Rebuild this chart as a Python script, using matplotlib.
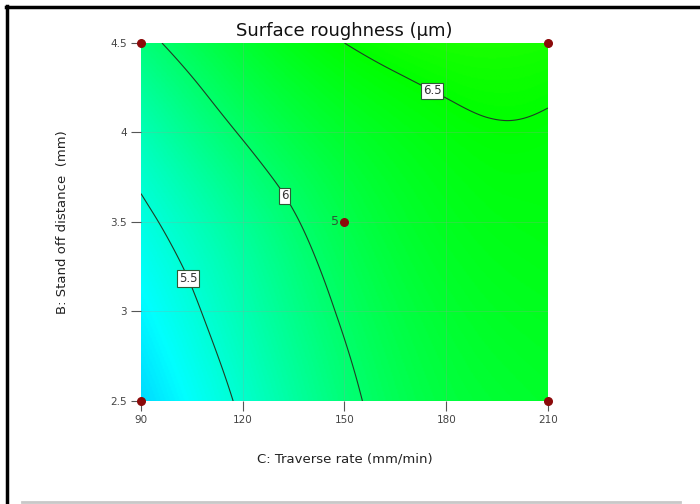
import numpy as np
import matplotlib
matplotlib.use("Agg")
import matplotlib.pyplot as plt
import matplotlib.tri as mtri
from matplotlib.colors import LinearSegmentedColormap
from matplotlib.lines import Line2D

# ---- data ----
traverse_rate = [90, 120, 150, 180, 195, 210]     # C (mm/min)
standoff = [2.5, 3.0, 3.5, 4.0, 4.5]              # B (mm)
# roughness estimates, rows = standoff, cols = traverse rate
ra_b25 = [5.13, 5.54, 5.94, 6.20, 6.26, 6.30]
ra_b30 = [5.27, 5.66, 6.03, 6.27, 6.33, 6.36]
ra_b35 = [5.44, 5.80, 6.14, 6.35, 6.40, 6.42]
ra_b40 = [5.65, 6.02, 6.29, 6.445, 6.484, 6.472]
ra_b45 = [5.93, 6.26, 6.50, 6.61, 6.62, 6.60]
contour_levels = [5.5, 6.0, 6.5]
label_positions = [(104.7, 3.19), (131, 3.63), (176, 4.24)]
design_x = [90, 210, 90, 210, 150]
design_y = [2.5, 2.5, 4.5, 4.5, 3.5]
center_count = "5"
xticks = [90, 120, 150, 180, 210]
yticks = [2.5, 3, 3.5, 4, 4.5]
ytick_labels = ["2.5", "3", "3.5", "4", "4.5"]

Z = np.array([ra_b25, ra_b30, ra_b35, ra_b40, ra_b45])
X, Y = np.meshgrid(traverse_rate, standoff)

# scale to unit square for a well-shaped triangulation
xs = (X.ravel() - 90) / 120.0
ys = (Y.ravel() - 2.5) / 2.0
tri = mtri.Triangulation(xs, ys)
interp = mtri.CubicTriInterpolator(tri, Z.ravel(), kind="min_E")

nf = 300
cf = np.linspace(90, 210, nf)
bf = np.linspace(2.5, 4.5, nf)
CF, BF = np.meshgrid(cf, bf)
ZF = np.asarray(interp((CF - 90) / 120.0, (BF - 2.5) / 2.0))

cmap = LinearSegmentedColormap.from_list(
    "de", ["#0000ff", "#00ffff", "#00ff00", "#ffff00", "#ff0000"])

fig = plt.figure(figsize=(7.0, 5.04), dpi=100)
ax = fig.add_axes([0.2014, 0.2044, 0.5814, 0.7103])

ax.imshow(ZF, origin="lower", extent=[90, 210, 2.5, 4.5], aspect="auto",
          cmap=cmap, vmin=4.1, vmax=8.9, interpolation="bilinear", zorder=0)

# faint grid lines
for xv in xticks[1:-1]:
    ax.axvline(xv, color="#9a9a9a", lw=0.6, alpha=0.3, zorder=1)
for yv in yticks[1:-1]:
    ax.axhline(yv, color="#9a9a9a", lw=0.6, alpha=0.3, zorder=1)

cs = ax.contour(CF, BF, ZF, levels=contour_levels, colors="#1f3d25",
                linewidths=0.8, zorder=2)
labels = ax.clabel(cs, fmt=lambda v: f"{v:g}", fontsize=8.5, inline=False,
                   manual=label_positions)
for t in labels:
    t.set_rotation(0)
    t.set_color("#333333")
    t.set_zorder(4)
    t.set_bbox(dict(facecolor="white", edgecolor="#2d5a35", pad=1.2, lw=0.8))

ax.scatter(design_x, design_y, s=30, color="#8b0a0a", zorder=5, clip_on=False)
ax.text(148.5, 3.5, center_count, ha="right", va="center", fontsize=9,
        color="#2d5a35", zorder=5)

ax.set_xlim(90, 210)
ax.set_ylim(2.5, 4.5)
ax.set_xticks(xticks)
ax.set_yticks(yticks)
ax.set_yticklabels(ytick_labels)
for s in ax.spines.values():
    s.set_visible(False)
ax.tick_params(direction="out", length=7, width=0.8, color="#555555",
               labelsize=7.5, labelcolor="#444444", pad=3)

ax.set_title("Surface roughness (µm)", fontsize=13, color="#111111", pad=5)
ax.set_xlabel("C: Traverse rate (mm/min)", fontsize=9.5, color="#222222",
              labelpad=20)
ax.set_ylabel("B: Stand off distance  (mm)", fontsize=9.5, color="#222222",
              labelpad=30)

# outer frame of the picture
fig.add_artist(Line2D([0.0086, 1.0], [0.9866, 0.9866], color="black", lw=2.5))
fig.add_artist(Line2D([0.0100, 0.0100], [0.0, 0.9880], color="black", lw=2.5))
fig.add_artist(Line2D([0.031, 0.972], [0.0045, 0.0045], color="#c8c8c8", lw=2))

fig.savefig("out.png", dpi=100)
